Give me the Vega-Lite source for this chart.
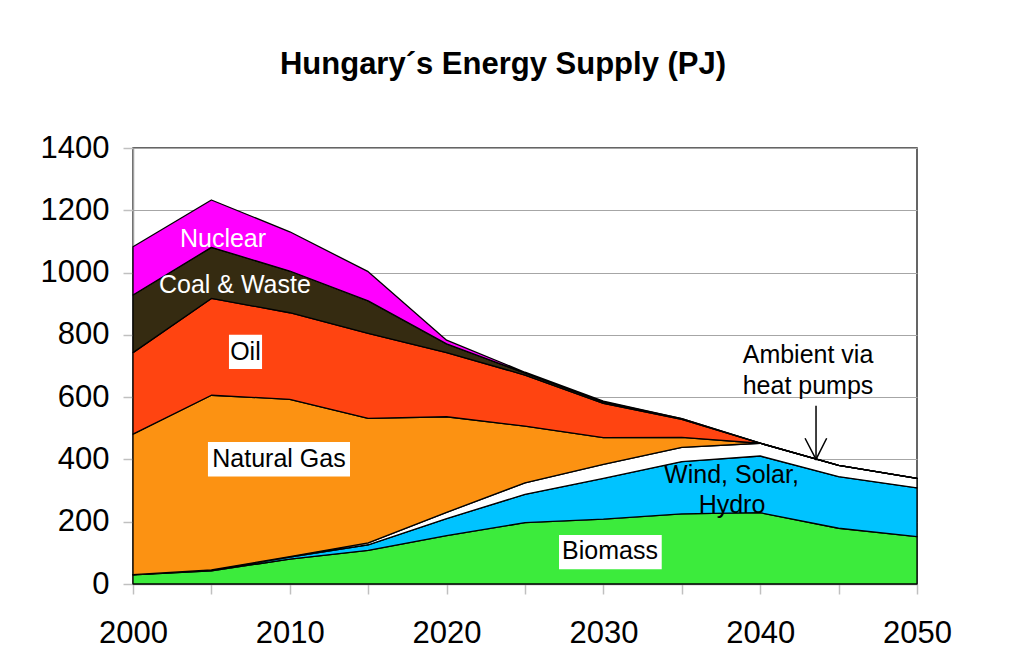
{
  "$schema": "https://vega.github.io/schema/vega-lite/v6.json",
  "width": 784,
  "height": 436,
  "autosize": {"type": "none"},
  "padding": {"left": 133, "top": 148, "right": 95, "bottom": 75},
  "background": "white",
  "title": {
    "text": "Hungary´s Energy Supply (PJ)",
    "font": "Liberation Sans",
    "fontSize": 31,
    "fontWeight": "bold",
    "color": "black",
    "anchor": "middle",
    "baseline": "alphabetic",
    "offset": 27,
    "dx": -22
  },
  "config": {
    "view": {"stroke": "#333333", "strokeWidth": 1.5},
    "axis": {
      "labelFont": "Liberation Sans",
      "labelFontSize": 31,
      "labelColor": "black",
      "domainColor": "#A0A0A0",
      "domainWidth": 1.5,
      "tickColor": "#C0C0C0",
      "tickSize": 10,
      "tickWidth": 1.5,
      "gridColor": "#A6A6A6",
      "gridWidth": 1,
      "title": null,
      "zindex": 1
    }
  },
  "datasets": {
    "supply": [
      {"year": 2000, "source": "Biomass", "n": 1, "pj": 29},
      {"year": 2000, "source": "Wind, Solar, Hydro", "n": 2, "pj": 1},
      {"year": 2000, "source": "Ambient via heat pumps", "n": 3, "pj": 0},
      {"year": 2000, "source": "Natural Gas", "n": 4, "pj": 451},
      {"year": 2000, "source": "Oil", "n": 5, "pj": 262},
      {"year": 2000, "source": "Coal & Waste", "n": 6, "pj": 185},
      {"year": 2000, "source": "Nuclear", "n": 7, "pj": 155},
      {"year": 2005, "source": "Biomass", "n": 1, "pj": 42},
      {"year": 2005, "source": "Wind, Solar, Hydro", "n": 2, "pj": 2},
      {"year": 2005, "source": "Ambient via heat pumps", "n": 3, "pj": 1},
      {"year": 2005, "source": "Natural Gas", "n": 4, "pj": 561},
      {"year": 2005, "source": "Oil", "n": 5, "pj": 311},
      {"year": 2005, "source": "Coal & Waste", "n": 6, "pj": 164},
      {"year": 2005, "source": "Nuclear", "n": 7, "pj": 152},
      {"year": 2010, "source": "Biomass", "n": 1, "pj": 80},
      {"year": 2010, "source": "Wind, Solar, Hydro", "n": 2, "pj": 6},
      {"year": 2010, "source": "Ambient via heat pumps", "n": 3, "pj": 2},
      {"year": 2010, "source": "Natural Gas", "n": 4, "pj": 505},
      {"year": 2010, "source": "Oil", "n": 5, "pj": 278},
      {"year": 2010, "source": "Coal & Waste", "n": 6, "pj": 134},
      {"year": 2010, "source": "Nuclear", "n": 7, "pj": 126},
      {"year": 2015, "source": "Biomass", "n": 1, "pj": 108},
      {"year": 2015, "source": "Wind, Solar, Hydro", "n": 2, "pj": 18},
      {"year": 2015, "source": "Ambient via heat pumps", "n": 3, "pj": 6},
      {"year": 2015, "source": "Natural Gas", "n": 4, "pj": 400},
      {"year": 2015, "source": "Oil", "n": 5, "pj": 273},
      {"year": 2015, "source": "Coal & Waste", "n": 6, "pj": 104},
      {"year": 2015, "source": "Nuclear", "n": 7, "pj": 94},
      {"year": 2020, "source": "Biomass", "n": 1, "pj": 155},
      {"year": 2020, "source": "Wind, Solar, Hydro", "n": 2, "pj": 55},
      {"year": 2020, "source": "Ambient via heat pumps", "n": 3, "pj": 20},
      {"year": 2020, "source": "Natural Gas", "n": 4, "pj": 307},
      {"year": 2020, "source": "Oil", "n": 5, "pj": 206},
      {"year": 2020, "source": "Coal & Waste", "n": 6, "pj": 28},
      {"year": 2020, "source": "Nuclear", "n": 7, "pj": 12},
      {"year": 2025, "source": "Biomass", "n": 1, "pj": 197},
      {"year": 2025, "source": "Wind, Solar, Hydro", "n": 2, "pj": 91},
      {"year": 2025, "source": "Ambient via heat pumps", "n": 3, "pj": 37},
      {"year": 2025, "source": "Natural Gas", "n": 4, "pj": 182},
      {"year": 2025, "source": "Oil", "n": 5, "pj": 164},
      {"year": 2025, "source": "Coal & Waste", "n": 6, "pj": 6},
      {"year": 2025, "source": "Nuclear", "n": 7, "pj": 3},
      {"year": 2030, "source": "Biomass", "n": 1, "pj": 208},
      {"year": 2030, "source": "Wind, Solar, Hydro", "n": 2, "pj": 131},
      {"year": 2030, "source": "Ambient via heat pumps", "n": 3, "pj": 45},
      {"year": 2030, "source": "Natural Gas", "n": 4, "pj": 86},
      {"year": 2030, "source": "Oil", "n": 5, "pj": 110},
      {"year": 2030, "source": "Coal & Waste", "n": 6, "pj": 5},
      {"year": 2030, "source": "Nuclear", "n": 7, "pj": 2},
      {"year": 2035, "source": "Biomass", "n": 1, "pj": 225},
      {"year": 2035, "source": "Wind, Solar, Hydro", "n": 2, "pj": 168},
      {"year": 2035, "source": "Ambient via heat pumps", "n": 3, "pj": 46},
      {"year": 2035, "source": "Natural Gas", "n": 4, "pj": 32},
      {"year": 2035, "source": "Oil", "n": 5, "pj": 58},
      {"year": 2035, "source": "Coal & Waste", "n": 6, "pj": 2},
      {"year": 2035, "source": "Nuclear", "n": 7, "pj": 0},
      {"year": 2040, "source": "Biomass", "n": 1, "pj": 229},
      {"year": 2040, "source": "Wind, Solar, Hydro", "n": 2, "pj": 182},
      {"year": 2040, "source": "Ambient via heat pumps", "n": 3, "pj": 41},
      {"year": 2040, "source": "Natural Gas", "n": 4, "pj": 0},
      {"year": 2040, "source": "Oil", "n": 5, "pj": 0},
      {"year": 2040, "source": "Coal & Waste", "n": 6, "pj": 0},
      {"year": 2040, "source": "Nuclear", "n": 7, "pj": 0},
      {"year": 2045, "source": "Biomass", "n": 1, "pj": 179},
      {"year": 2045, "source": "Wind, Solar, Hydro", "n": 2, "pj": 166},
      {"year": 2045, "source": "Ambient via heat pumps", "n": 3, "pj": 36},
      {"year": 2045, "source": "Natural Gas", "n": 4, "pj": 0},
      {"year": 2045, "source": "Oil", "n": 5, "pj": 0},
      {"year": 2045, "source": "Coal & Waste", "n": 6, "pj": 0},
      {"year": 2045, "source": "Nuclear", "n": 7, "pj": 0},
      {"year": 2050, "source": "Biomass", "n": 1, "pj": 152},
      {"year": 2050, "source": "Wind, Solar, Hydro", "n": 2, "pj": 157},
      {"year": 2050, "source": "Ambient via heat pumps", "n": 3, "pj": 30},
      {"year": 2050, "source": "Natural Gas", "n": 4, "pj": 0},
      {"year": 2050, "source": "Oil", "n": 5, "pj": 0},
      {"year": 2050, "source": "Coal & Waste", "n": 6, "pj": 0},
      {"year": 2050, "source": "Nuclear", "n": 7, "pj": 0}
    ],
    "boxes": [
      {"label": "Oil", "x1": 2006.12, "x2": 2008.23, "y1": 690, "y2": 800},
      {"label": "Natural Gas", "x1": 2004.78, "x2": 2013.84, "y1": 345, "y2": 456},
      {"label": "Biomass", "x1": 2027.17, "x2": 2033.72, "y1": 47, "y2": 157}
    ],
    "labels": [
      {"text": "Nuclear", "year": 2005.74, "pj": 1082, "tone": "light"},
      {"text": "Coal & Waste", "year": 2006.5, "pj": 935, "tone": "light"},
      {"text": "Oil", "year": 2007.17, "pj": 719, "tone": "dark"},
      {"text": "Natural Gas", "year": 2009.31, "pj": 375, "tone": "dark"},
      {"text": "Biomass", "year": 2030.42, "pj": 79, "tone": "dark"},
      {"text": "Wind, Solar,", "year": 2038.17, "pj": 323, "tone": "dark"},
      {"text": "Hydro", "year": 2038.2, "pj": 229, "tone": "dark"},
      {"text": "Ambient via", "year": 2043.05, "pj": 711, "tone": "dark"},
      {"text": "heat pumps", "year": 2043.05, "pj": 609, "tone": "dark"}
    ],
    "arrow": [
      {"part": "shaft", "i": 1, "year": 2043.56, "pj": 572},
      {"part": "shaft", "i": 2, "year": 2043.56, "pj": 400},
      {"part": "head", "i": 1, "year": 2042.86, "pj": 468},
      {"part": "head", "i": 2, "year": 2043.56, "pj": 400},
      {"part": "head", "i": 3, "year": 2044.24, "pj": 468}
    ]
  },
  "layer": [
    {
      "data": {"name": "supply"},
      "mark": {"type": "area", "stroke": "black", "strokeWidth": 1.3, "strokeJoin": "round"},
      "encoding": {
        "x": {
          "field": "year",
          "type": "quantitative",
          "scale": {"domain": [2000, 2050], "nice": false, "zero": false},
          "axis": {
            "values": [2000, 2005, 2010, 2015, 2020, 2025, 2030, 2035, 2040, 2045, 2050],
            "labelExpr": "datum.value % 10 === 0 ? format(datum.value, 'd') : ''",
            "grid": false,
            "labelPadding": 24,
            "labelFlush": false,
            "labelOverlap": false
          }
        },
        "y": {
          "field": "pj",
          "type": "quantitative",
          "stack": "zero",
          "scale": {"domain": [0, 1400], "nice": false},
          "axis": {
            "values": [0, 200, 400, 600, 800, 1000, 1200, 1400],
            "format": "d",
            "grid": true,
            "labelPadding": 14
          }
        },
        "color": {
          "field": "source",
          "type": "nominal",
          "scale": {
            "domain": ["Biomass", "Wind, Solar, Hydro", "Ambient via heat pumps", "Natural Gas", "Oil", "Coal & Waste", "Nuclear"],
            "range": ["#3CEB3C", "#00C3FF", "#FFFFFF", "#FC9212", "#FF4411", "#352B11", "#FF00FF"]
          },
          "legend": null
        },
        "order": {"field": "n", "type": "quantitative", "sort": "ascending"}
      }
    },
    {
      "data": {"name": "boxes"},
      "mark": {"type": "rect", "fill": "white"},
      "encoding": {
        "x": {"field": "x1", "type": "quantitative"},
        "x2": {"field": "x2"},
        "y": {"field": "y1", "type": "quantitative"},
        "y2": {"field": "y2"}
      }
    },
    {
      "data": {"name": "labels"},
      "mark": {"type": "text", "font": "Liberation Sans", "fontSize": 25, "baseline": "alphabetic", "align": "center"},
      "encoding": {
        "x": {"field": "year", "type": "quantitative"},
        "y": {"field": "pj", "type": "quantitative"},
        "text": {"field": "text"},
        "color": {
          "field": "tone",
          "type": "nominal",
          "scale": {"domain": ["light", "dark"], "range": ["white", "black"]},
          "legend": null
        }
      }
    },
    {
      "data": {"name": "arrow"},
      "mark": {"type": "line", "color": "black", "strokeWidth": 1.5},
      "encoding": {
        "x": {"field": "year", "type": "quantitative"},
        "y": {"field": "pj", "type": "quantitative"},
        "detail": {"field": "part"},
        "order": {"field": "i"}
      }
    }
  ],
  "resolve": {"scale": {"color": "independent"}}
}
